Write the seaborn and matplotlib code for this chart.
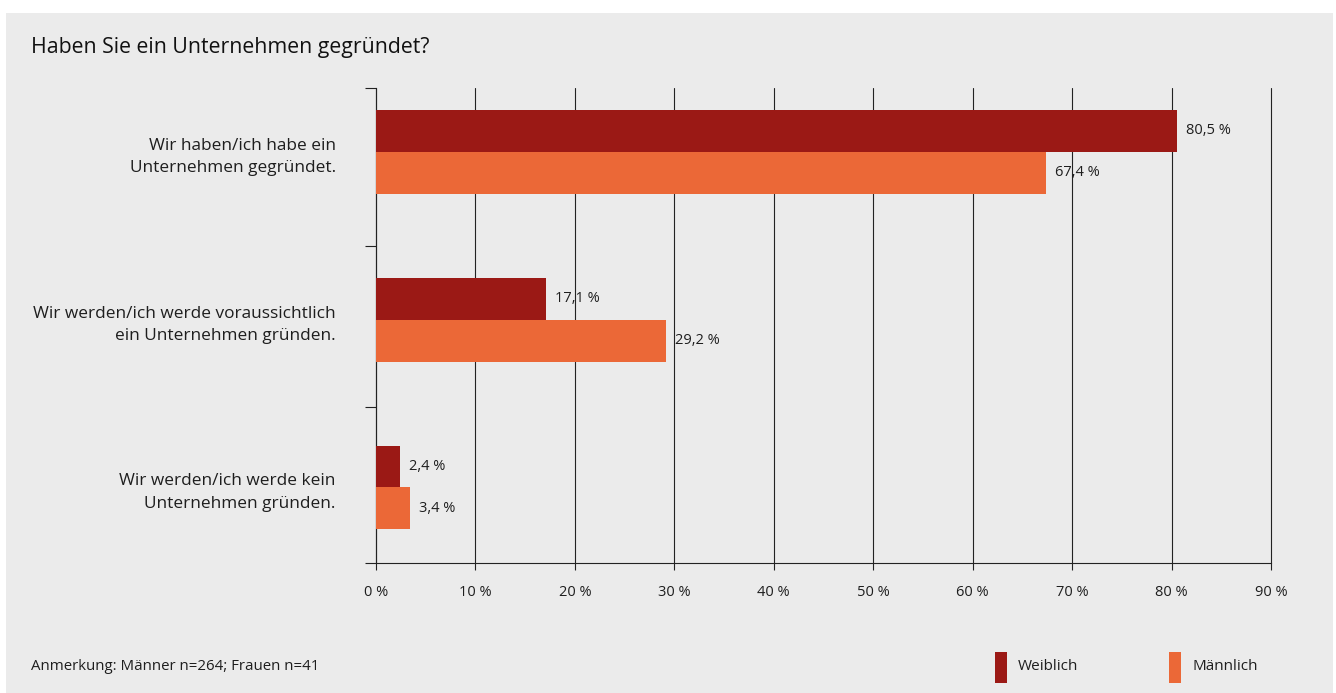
import matplotlib.pyplot as plt
import pandas as pd
import seaborn as sns
from matplotlib.patches import Rectangle

# data
antworten = [
    "Wir haben/ich habe ein\nUnternehmen gegründet.",
    "Wir werden/ich werde voraussichtlich\nein Unternehmen gründen.",
    "Wir werden/ich werde kein\nUnternehmen gründen.",
]
weiblich = [80.5, 17.1, 2.4]
maennlich = [67.4, 29.2, 3.4]
gruppen = ["Weiblich", "Männlich"]
farben = ["#9b1915", "#eb6837"]
x_ticks = [0, 10, 20, 30, 40, 50, 60, 70, 80, 90]

df = pd.DataFrame({
    "antwort": antworten * 2,
    "wert": weiblich + maennlich,
    "gruppe": [gruppen[0]] * 3 + [gruppen[1]] * 3,
})

W, H = 1336, 693
sns.set_theme(style="white")
plt.rcParams["font.family"] = ["Open Sans", "DejaVu Sans"]
text_col = "#1e1e1e"
line_col = "#222222"
bg = "#ebebeb"

fig = plt.figure(figsize=(W / 100, H / 100), dpi=100)
fig.patch.set_facecolor("white")
fig.patches.append(Rectangle((6 / W, 0), (1333 - 6) / W, (H - 13) / H,
                             transform=fig.transFigure, facecolor=bg,
                             edgecolor="none", zorder=-10))

ax = fig.add_axes([376 / W, 1 - 563 / H, (1271 - 376) / W, (563 - 88) / H])
ax.set_facecolor("none")

sns.barplot(data=df, y="antwort", x="wert", hue="gruppe", orient="h",
            palette=farben, hue_order=gruppen, width=0.5, saturation=1,
            linewidth=0, edgecolor="none", legend=False, ax=ax, zorder=3)

# value labels in German number format
for cont, werte in zip(ax.containers, [weiblich, maennlich]):
    ax.bar_label(cont, labels=[f"{v:.1f} %".replace(".", ",") for v in werte],
                 padding=6.5, fontsize=10.5, color=text_col)

ax.set_xlim(0, 90)
ax.set_ylim(2.45, -0.38)
ax.set_xticks(x_ticks)
ax.set_xticklabels([f"{t} %" for t in x_ticks], fontsize=10.5, color=text_col)
ax.xaxis.grid(True, color=line_col, linewidth=0.8)
for gl in ax.get_xgridlines():
    gl.set_clip_on(False)
ax.set_axisbelow(True)
ax.set_xlabel("")
ax.set_ylabel("")

ax.tick_params(axis="x", bottom=True, direction="out", length=5, width=0.8,
               color=line_col, pad=11)
ax.tick_params(axis="y", which="major", left=False, length=0, pad=29,
               labelsize=12.4, labelcolor=text_col)
ax.set_yticks([-0.38, 0.56, 1.52, 2.45], minor=True)
ax.tick_params(axis="y", which="minor", left=True, direction="out", length=8,
               width=0.8, color=line_col)
for lbl in ax.get_yticklabels():
    lbl.set_horizontalalignment("right")
    lbl.set_linespacing(1.55)

for side in ["top", "right"]:
    ax.spines[side].set_visible(False)
for side in ["left", "bottom"]:
    ax.spines[side].set_color(line_col)
    ax.spines[side].set_linewidth(0.8)

fig.text(31 / W, 1 - 47 / H, "Haben Sie ein Unternehmen gegründet?",
         fontsize=15.3, color="#111111", va="center")
fig.text(31 / W, 1 - 667 / H, "Anmerkung: Männer n=264; Frauen n=41",
         fontsize=10.8, color=text_col, va="center")

# legend
for x0, farbe, name in [(995, farben[0], gruppen[0]), (1169, farben[1], gruppen[1])]:
    fig.patches.append(Rectangle((x0 / W, 1 - 683 / H), 12 / W, 31 / H,
                                 transform=fig.transFigure, facecolor=farbe,
                                 edgecolor="none"))
    fig.text((x0 + 23) / W, 1 - 667 / H, name, fontsize=11, color=text_col,
             va="center")

fig.savefig("out.png", dpi=100, facecolor=fig.get_facecolor())
